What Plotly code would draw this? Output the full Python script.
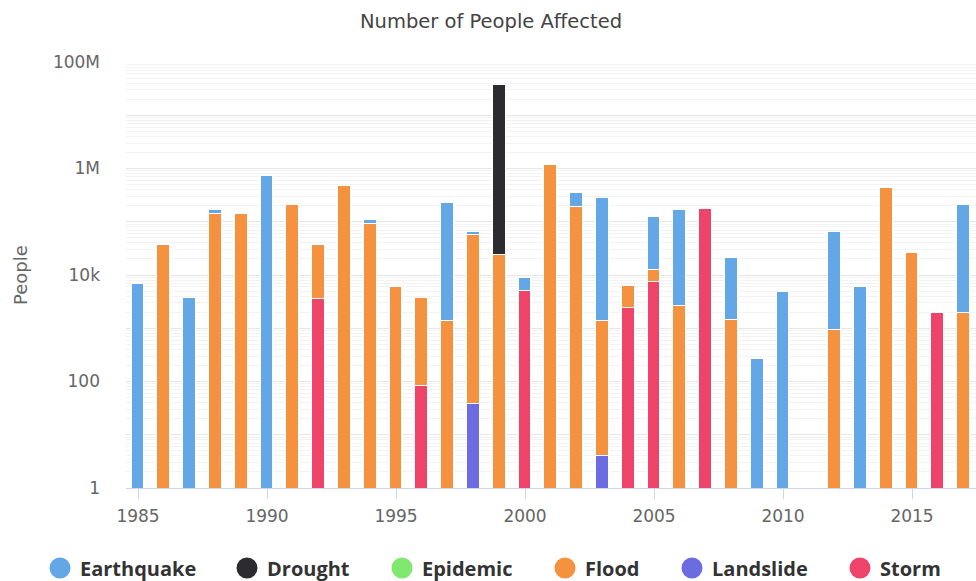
import plotly.graph_objects as go

# Years on the x axis
years = list(range(1985, 2018))

# People affected per disaster type and year (None = no event recorded)
earthquake = {1985: 6700, 1987: 3700, 1988: 22000, 1990: 730000, 1994: 14000,
              1997: 220000, 1998: 8700, 2000: 3600, 2002: 159000, 2003: 274000,
              2005: 110000, 2006: 161000, 2008: 19200, 2009: 260, 2010: 4700,
              2012: 63000, 2013: 5900, 2017: 207000}
drought = {1999: 36780000}
epidemic = {}
flood = {1986: 36800, 1988: 141600, 1989: 141600, 1991: 203000, 1992: 33300,
         1993: 464000, 1994: 92000, 1995: 5860, 1996: 3650, 1997: 1355,
         1998: 55160, 1999: 24150, 2001: 1140000, 2002: 189000, 2003: 1351,
         2004: 3870, 2005: 5300, 2006: 2640, 2008: 1435, 2012: 930,
         2014: 432000, 2015: 25600, 2017: 1920}
landslide = {1998: 38, 2003: 4}
storm = {1992: 3525, 1996: 81, 2000: 5060, 2004: 2415, 2005: 7280,
         2007: 176000, 2016: 1920}

# Legend order (top of stack first), colours and legend symbol centres (px)
series = [
    ("Earthquake", earthquake, "#63a7e6", 61),
    ("Drought", drought, "#2c2b30", 248),
    ("Epidemic", epidemic, "#7fe96f", 403),
    ("Flood", flood, "#f59240", 566),
    ("Landslide", landslide, "#6b6ce2", 693),
    ("Storm", storm, "#ef4469", 861),
]

W, H = 976, 581
M_L, M_T, M_B = 126, 62, 93
PLOT_H = H - M_T - M_B
fig = go.Figure()

# Bars are stacked bottom-up, so add them in reverse legend order
for name, data, color, _ in reversed(series):
    fig.add_trace(go.Bar(
        x=years,
        y=[data.get(y) for y in years],
        name=name,
        width=0.5,
        marker=dict(color=color, line=dict(color="white", width=1)),
        showlegend=False,
        legendgroup=name,
    ))

legend_font = dict(family="Open Sans", size=20, color="#333333", weight="bold")
legends = {}

# One legend per series so each entry sits at its own position
legend_row_y = 568  # px from top
for i, (name, data, color, cx) in enumerate(series):
    key = "legend" if i == 0 else f"legend{i + 1}"
    fig.add_trace(go.Scatter(
        x=[None], y=[None], mode="markers", name=name, legendgroup=name,
        marker=dict(color=color, size=16, symbol="circle",
                    line=dict(color=color, width=5)),
        legend=key,
    ))
    legends[key] = dict(
        orientation="h", xref="container", yref="paper",
        x=(cx - 21) / W, xanchor="left",
        y=-(legend_row_y - (H - M_B)) / PLOT_H, yanchor="middle",
        font=legend_font, itemsizing="trace", borderwidth=0,
        bgcolor="rgba(0,0,0,0)",
    )

major = [10 ** k for k in range(0, 9)]
major_text = ["1", "", "100", "", "10k", "", "1M", "", "100M"]
minor = [m * 10 ** k for k in range(0, 8) for m in range(2, 10)]

fig.update_layout(
    width=W, height=H,
    margin=dict(l=M_L, r=0, t=M_T, b=M_B, autoexpand=False),
    paper_bgcolor="white", plot_bgcolor="white",
    barmode="stack",
    bargap=0,
    title=dict(text="Number of People Affected", x=491 / W, xref="container",
               y=1 - 21 / H, yref="container", yanchor="middle", xanchor="center",
               font=dict(family="DejaVu Sans", size=19.5, color="#444444")),
    font=dict(family="DejaVu Sans", color="#666666"),
    xaxis=dict(
        range=[1984.535, 2017.48],
        tickmode="array", tickvals=list(range(1985, 2018, 5)),
        ticks="outside", ticklen=10, tickcolor="#ccd6eb", tickwidth=1,
        showline=True, linecolor="#ccd6eb", linewidth=1,
        showgrid=False, zeroline=False, ticklabelstandoff=3,
        tickfont=dict(size=17, color="#666666"),
    ),
    yaxis=dict(
        type="log", range=[0, 8],
        tickmode="array", tickvals=major, ticktext=major_text,
        showgrid=True, gridcolor="#e6e6e6", gridwidth=1,
        zeroline=False, showline=False, ticks="", ticklabelstandoff=25,
        tickfont=dict(size=17, color="#666666"),
        minor=dict(tickvals=minor, showgrid=True, gridcolor="#f3f3f3", gridwidth=1, ticks=""),
    ),
    annotations=[dict(
        text="People", textangle=-90, showarrow=False,
        xref="paper", yref="paper", x=0, y=0.5, xanchor="center", yanchor="middle",
        xshift=20 - M_L, font=dict(family="DejaVu Sans", size=18, color="#666666"),
    )],
    **legends,
)

fig.write_html("out.html")
